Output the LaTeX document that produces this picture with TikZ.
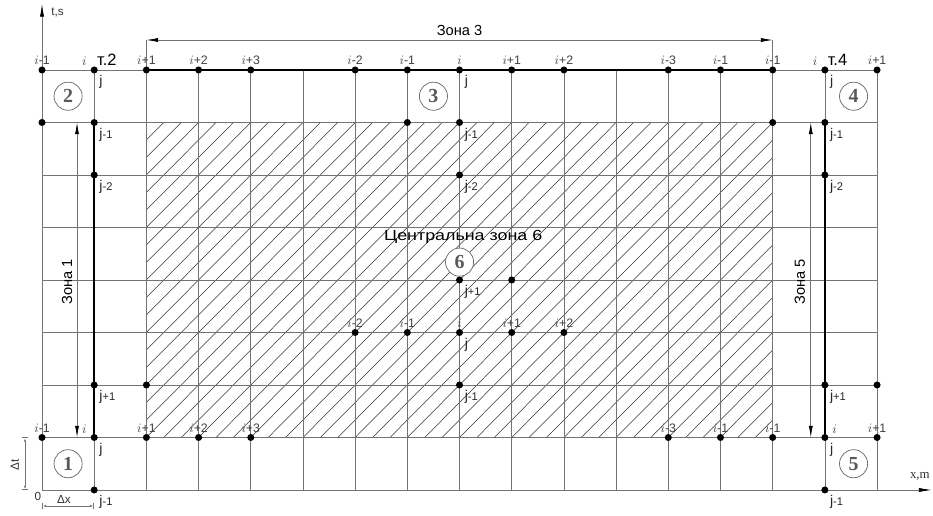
\documentclass[tikz,border=0pt]{standalone}
\usepackage{fontspec}
\setmainfont{Liberation Sans}
\newfontfamily\serfont{Liberation Serif}
\usepackage{tikz}
\usetikzlibrary{calc,positioning,arrows.meta}

\newcommand{\itxt}[1]{$i$#1}
\newcommand{\jtxt}[1]{j{\fontsize{9.5}{10}\selectfont#1}}

\tikzset{
  gridline/.style={draw=gray!90!black, line width=0.6pt},
  hatchline/.style={draw=black!80, line width=0.45pt},
  zoneline/.style={draw=black, line width=1.7pt},
  dimline/.style={draw=gray!90!black, line width=0.6pt},
  dimarrow/.style={dimline, {Latex[length=10pt,width=3.5pt,black]}-{Latex[length=10pt,width=3.5pt,black]}},
  smalldim/.style={dimline, |<->|, >={Latex[length=3pt,width=2pt]}},
  axisline/.style={draw=gray!90!black, line width=0.6pt, -{Latex[length=11pt,width=3.5pt,black]}},
  dot/.style={circle, fill=black, inner sep=0pt, minimum size=6pt},
  ilab/.style={font=\fontsize{10.5}{11}\selectfont, text=black!75, inner sep=1pt},
  jlab/.style={font=\fontsize{12}{13}\selectfont, text=black!85, inner sep=1pt},
  tlab/.style={font=\fontsize{14}{15}\selectfont, inner sep=1pt},
  zonelab/.style={font=\fontsize{12.5}{14}\selectfont, inner sep=1pt},
  smalllab/.style={font=\fontsize{10}{11}\selectfont, text=black!80, inner sep=1pt},
  zonenum/.style={circle, draw=gray!80!black, fill=white, line width=0.6pt, minimum size=24pt, inner sep=0pt, text=gray!70!black, font=\serfont\bfseries\fontsize{17}{17}\selectfont},
}

\begin{document}
\begin{tikzpicture}[x=1.5657cm, y=1.575cm]
  \useasboundingbox (-0.805,-0.495) rectangle (17.072,9.333);
  %HATCH
  \begin{scope}
    \clip (2,1) rectangle (14,7);
    \foreach \k in {0,...,54}
      \draw[hatchline] (\k/3-4,1) -- ++(6,6);
  \end{scope}
  %GRID
  \foreach \c in {0,...,16}
    \draw[gridline] (\c,0) -- (\c,8);
  \foreach \r in {0,...,8}
    \draw[gridline] (0,\r) -- (16,\r);
  %AXES
  \coordinate (O) at (0,0);
  \coordinate (tend) at (0,9.26);
  \coordinate (xend) at (17.05,0);
  \draw[axisline] (O) -- (tend);
  \draw[axisline] (O) -- (xend);
  \node[smalllab] (tslab) at (0.3,9.1) {t,s};
  \node[smalllab, font=\serfont\fontsize{11}{12}\selectfont] (xmlab) at (16.82,0.25) {x,m};
  \node[smalllab] (zero) at (-0.08,-0.13) {0};
  %POINTS
  \foreach \c/\r in {0/8,1/8,2/8,3/8,4/8,6/8,7/8,8/8,9/8,10/8,12/8,13/8,14/8,15/8,16/8,
      0/7,1/7,7/7,8/7,14/7,15/7, 1/6,8/6,15/6, 8/4,9/4, 6/3,7/3,8/3,9/3,10/3,
      1/2,2/2,8/2,15/2,16/2, 0/1,1/1,2/1,3/1,4/1,12/1,13/1,14/1,15/1,16/1, 1/0,15/0}
    \coordinate (g-\c-\r) at (\c,\r);
  %ZONE BORDERS
  \draw[zoneline] (g-2-8) -- (g-14-8);
  \draw[zoneline] (g-1-1) -- (g-1-7);
  \draw[zoneline] (g-15-1) -- (g-15-7);
  %ZONE 3
  \coordinate (z3l) at (2,8.571);
  \coordinate (z3r) at (14,8.571);
  \draw[dimline] (g-2-8) -- (z3l);
  \draw[dimline] (g-14-8) -- (z3r);
  \draw[dimarrow] (z3l) -- (z3r) node[zonelab, midway, above=2.5pt] (z3lab) {Зона 3};
  %ZONE 1
  \coordinate (z1b) at (0.671,1);
  \coordinate (z1t) at (0.671,7);
  \draw[dimline] (g-1-1) -- (z1b);
  \draw[dimline] (g-1-7) -- (z1t);
  \draw[dimarrow] (z1b) -- (z1t);
  \node[zonelab, rotate=90] (z1lab) at (0.48,3.97) {Зона 1};
  %ZONE 5
  \coordinate (z5b) at (14.73,1);
  \coordinate (z5t) at (14.73,7);
  \draw[dimline] (g-15-1) -- (z5b);
  \draw[dimline] (g-15-7) -- (z5t);
  \draw[dimarrow] (z5b) -- (z5t);
  \node[zonelab, rotate=90] (z5lab) at (14.52,3.97) {Зона 5};
  %STEPS
  \coordinate (dtb) at (-0.326,0);
  \coordinate (dtt) at (-0.326,1);
  \draw[smalldim] (dtb) -- (dtt);
  \node[smalllab, rotate=90] (dtlab) at (-0.52,0.48) {Δt};
  \coordinate (dxl) at (0,-0.305);
  \coordinate (dxr) at (1,-0.305);
  \draw[smalldim] (dxl) -- (dxr);
  \node[smalllab] (dxlab) at (0.42,-0.18) {Δx};
  %DOTS
  \foreach \c/\r in {0/8,1/8,2/8,3/8,4/8,6/8,7/8,8/8,9/8,10/8,12/8,13/8,14/8,15/8,16/8,
      0/7,1/7,7/7,8/7,14/7,15/7, 1/6,8/6,15/6, 8/4,9/4, 6/3,7/3,8/3,9/3,10/3,
      1/2,2/2,8/2,15/2,16/2, 0/1,1/1,2/1,3/1,4/1,12/1,13/1,14/1,15/1,16/1, 1/0,15/0}
    \node[dot] (p-\c-\r) at (g-\c-\r) {};
  %INDEX I
  \foreach \c/\r/\t in {0/8/-1, 2/8/+1, 3/8/+2, 4/8/+3, 6/8/-2, 7/8/-1, 8/8/{}, 9/8/+1,
      10/8/+2, 12/8/-3, 13/8/-1, 14/8/-1, 16/8/+1, 6/3/-2, 7/3/-1, 8/3/{}, 9/3/+1, 10/3/+2,
      0/1/-1, 2/1/+1, 3/1/+2, 4/1/+3, 12/1/-3, 13/1/-1, 14/1/-1, 16/1/+1}
    \node[ilab, above=0pt of p-\c-\r] (i-\c-\r) {\itxt{\t}};
  \node[ilab, above left=0pt and 3pt of p-1-8] (i-1-8) {\itxt{}};
  \node[tlab, above right=0pt and -1pt of p-1-8] (t2) {т.2};
  \node[ilab, above left=0pt and 3pt of p-15-8] (i-15-8) {\itxt{}};
  \node[tlab, above right=0pt and -1pt of p-15-8] (t4) {т.4};
  \node[ilab, above left=0pt and 3pt of p-1-1] (i-1-1) {\itxt{}};
  \node[ilab, above right=0pt and 3pt of p-15-1] (i-15-1) {\itxt{}};
  %INDEX J
  \foreach \c/\r/\t in {1/8/{}, 1/7/-1, 1/6/-2, 8/8/{}, 8/7/-1, 8/6/-2, 15/8/{}, 15/7/-1,
      15/6/-2, 8/4/+1, 8/3/{}, 1/2/+1, 8/2/-1, 15/2/+1, 1/1/{}, 15/1/{}, 1/0/-1, 15/0/-1}
    \node[jlab, below right=1.5pt and 1pt of p-\c-\r] (j-\c-\r) {\jtxt{\t}};
  %ZONE NUMBERS
  \node[zonenum] (n1) at (0.5,0.5) {1};
  \node[zonenum] (n2) at (0.5,7.5) {2};
  \node[zonenum] (n3) at (7.5,7.5) {3};
  \node[zonenum] (n4) at (15.55,7.5) {4};
  \node[zonenum] (n5) at (15.55,0.5) {5};
  \node[zonenum] (n6) at (8,4.34) {6};
  \node[zonelab] (c6lab) at (8.07,4.82) {\scalebox{1.22}[1]{Центральна зона 6}};
\end{tikzpicture}
\end{document}
